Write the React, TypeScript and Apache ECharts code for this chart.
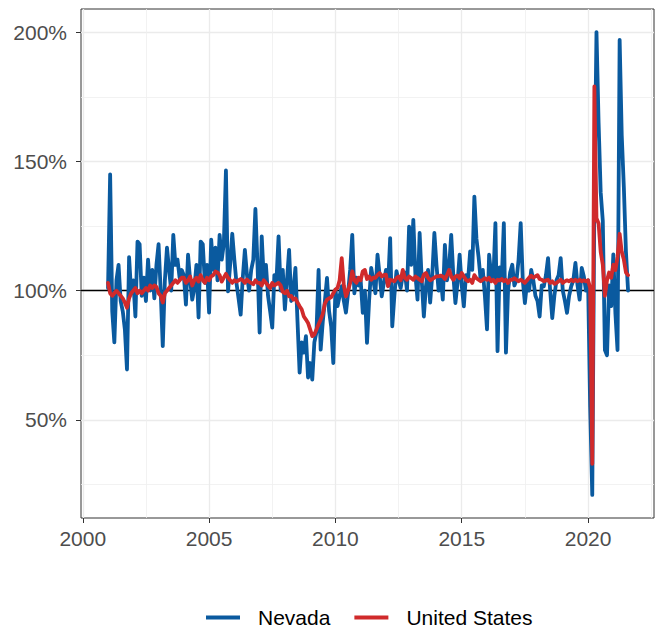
import React, { useEffect, useRef } from "react";
import * as echarts from "echarts";

// Monthly series, January 2001 to August 2021
const START_YEAR = 2001;

const nevada = [
  101, 145, 92, 80, 104, 110, 96, 92, 85, 69.5, 113, 99,
  104, 90, 119, 118, 98, 105, 96, 112, 100, 108, 97, 110,
  118, 100, 78.5, 104, 116.6, 108, 100, 121.6, 110, 112, 105, 108,
  106, 94.6, 113.9, 104, 96.5, 101, 110, 89.6, 119, 118, 103, 110,
  91.5, 119.7, 108, 116.6, 104, 121.6, 112, 118, 146.5, 99.7, 110, 122,
  112, 103, 97, 90.7, 105, 115.8, 106, 100, 108, 112, 131.6, 110,
  83.8, 121, 104, 110, 98, 92, 85.7, 106, 104, 121, 100, 108,
  92.7, 104, 115.8, 96, 100, 108.8, 88, 68.3, 80, 76, 82.4, 66.4,
  72, 65.6, 80, 84, 108, 77.2, 88, 96, 104.9, 92, 86, 72,
  100.4, 94, 98, 101.7, 96, 91.5, 99, 108, 121.6, 99, 105, 102,
  104, 91.4, 100, 79.8, 96, 108.8, 104, 99, 113.9, 106, 97.8, 103,
  108, 102, 120.3, 86.2, 98, 107.5, 104, 101, 106, 107, 100, 124.8,
  110, 127.4, 106, 96.5, 122.3, 104, 90, 101.7, 108, 95.4, 106, 122.3,
  110, 100, 105.5, 96.5, 117.7, 104, 109, 121.6, 106, 95.2, 103, 113.9,
  102, 93.9, 106, 104, 115.2, 108, 136.4, 120, 113, 104, 108, 98,
  85, 113.9, 106, 104, 126.1, 76.6, 109, 104, 126.1, 76, 100, 107,
  110, 102, 104, 112, 126.1, 104, 95.2, 103, 100, 108, 104, 98,
  96, 90, 102, 101.7, 106, 112.6, 100, 89.4, 98, 104, 106, 112.6,
  100, 96, 91.4, 98, 101.7, 104, 110.7, 102, 96.5, 108.8, 105.5, 100,
  104, 55, 21, 135, 200, 165, 138, 127, 77, 75, 102, 94,
  114, 91, 77, 197, 160, 140, 115, 100,
];

const unitedStates = [
  103, 99, 98, 99, 100, 99, 98, 97, 95.4, 93.4, 97, 99,
  100, 101, 99, 100, 99, 100, 101, 100, 102, 101, 102, 101.5,
  99, 98, 95.4, 99, 100, 101, 102, 103, 104, 103, 104, 105,
  105, 103, 104, 105.5, 102, 104, 105, 103.5, 106, 104, 103, 105,
  104, 105.5, 106, 107.4, 107, 106, 103.5, 105, 106.5, 105, 104, 103,
  104, 103.5, 104, 104.5, 104, 103, 104.3, 103.5, 103, 102.5, 104, 103,
  103, 102, 104, 103, 102, 101, 103, 102, 102.5, 103, 102, 99.5,
  99, 100, 97.8, 98, 96.5, 97, 95.4, 94, 92.7, 90, 88.8, 87.5,
  85, 82.4, 83, 85, 87, 88.8, 91, 95, 96.5, 97, 97.5, 99,
  100.4, 101, 104, 112.6, 102, 97.8, 100, 103, 107.5, 104, 103, 105,
  104, 107.5, 108, 104.5, 105.5, 104.2, 105, 104.9, 106, 106.8, 105.5, 106,
  106.2, 101.7, 104.2, 104, 103.6, 104.9, 105.5, 104, 108, 104.9, 104.2, 105.5,
  104.9, 104.2, 105.5, 104.9, 104.2, 103.6, 106.2, 106.8, 105, 104, 104.5, 105,
  105.5, 105.5, 105.8, 105.5, 104.5, 106, 108, 105.5, 104.2, 105.5, 105.8, 104.8,
  106.8, 105.5, 104.2, 103.6, 104.2, 103, 106, 104.8, 104.2, 103.6, 104.2, 104.8,
  104.2, 105, 103.6, 104.2, 103, 104.2, 104, 104.5, 103.6, 104.2, 103, 104.2,
  104.2, 104.8, 104.2, 103.6, 104.2, 103.6, 103, 104, 105, 105.8, 105, 105.5,
  106, 104.5, 104.2, 103.6, 104, 104.2, 103, 103.6, 102.6, 103, 103.6, 104.2,
  103, 103.6, 104, 103.6, 104.2, 103.6, 104.2, 103.6, 104.2, 103.6, 104, 103.6,
  104, 101, 33, 179, 128, 126, 115, 110, 98, 104, 107, 105,
  110, 108, 113, 122, 115, 112, 107, 106,
];

const xMajorTicks = [2000, 2005, 2010, 2015, 2020];
const xMinorTicks = [2002.5, 2007.5, 2012.5, 2017.5, 2022.5];
const yMajorTicks = [50, 100, 150, 200];
const yMinorTicks = [25, 75, 125, 175];
const referenceLevel = 100;

const X_MIN = 1999.93;
const X_MAX = 2022.61;
const Y_MIN = 12.05;
const Y_MAX = 208.95;

const monthTimes = nevada.map((_, i) => START_YEAR + i / 12);

const FONT = "'Liberation Sans', Arial, sans-serif";
const BLUE = "#0A5A9F";
const RED = "#D02A2B";
// legend key: a 34x4 bar followed by blank space so the label sits 18px after it
const LEGEND_KEY = "path://M0,0H34V4H0Z M47,0V4";

export default function App() {
  const ref = useRef<HTMLDivElement>(null);

  useEffect(() => {
    if (!ref.current) return;
    const chart = echarts.init(ref.current, undefined, { renderer: "svg" });

    const majorSplit = { show: true, lineStyle: { color: "#EBEBEB", width: 1.3 } };
    const minorSplit = { show: true, lineStyle: { color: "#EFEFEF", width: 0.8 } };

    const option: any = {
      animation: false,
      backgroundColor: "#FFFFFF",
      grid: {
        left: 81,
        top: 9,
        width: 573,
        height: 509,
        show: true,
        borderColor: "#333333",
        borderWidth: 1,
        backgroundColor: "transparent",
      },
      legend: {
        data: ["Nevada", "United States"],
        left: 206,
        top: 607,
        padding: 0,
        icon: LEGEND_KEY,
        itemWidth: 47,
        itemHeight: 4,
        itemGap: 24,
        itemStyle: { borderWidth: 0, borderColor: "transparent" },
        textStyle: {
          fontSize: 21,
          color: "#000000",
          fontFamily: FONT,
        },
      },
      xAxis: [
        {
          type: "value",
          min: X_MIN,
          max: X_MAX,
          position: "bottom",
          axisLine: { show: false },
          axisTick: {
            show: true,
            length: 5,
            customValues: xMajorTicks,
            lineStyle: { color: "#333333", width: 1 },
          },
          axisLabel: {
            customValues: xMajorTicks,
            fontSize: 21,
            color: "#4D4D4D",
            fontFamily: FONT,
            margin: 10,
            formatter: (v: number) => String(Math.round(v)),
          },
          splitLine: majorSplit,
        },
        {
          type: "value",
          min: X_MIN,
          max: X_MAX,
          position: "top",
          axisLine: { show: false },
          axisTick: { show: false, customValues: xMinorTicks },
          axisLabel: { show: false, customValues: xMinorTicks },
          splitLine: minorSplit,
        },
      ],
      yAxis: [
        {
          type: "value",
          min: Y_MIN,
          max: Y_MAX,
          position: "left",
          axisLine: { show: false },
          axisTick: {
            show: true,
            length: 5,
            customValues: yMajorTicks,
            lineStyle: { color: "#333333", width: 1 },
          },
          axisLabel: {
            customValues: yMajorTicks,
            fontSize: 21,
            color: "#4D4D4D",
            fontFamily: FONT,
            margin: 14,
            formatter: (v: number) => `${Math.round(v)}%`,
          },
          splitLine: majorSplit,
        },
        {
          type: "value",
          min: Y_MIN,
          max: Y_MAX,
          position: "right",
          axisLine: { show: false },
          axisTick: { show: false, customValues: yMinorTicks },
          axisLabel: { show: false, customValues: yMinorTicks },
          splitLine: minorSplit,
        },
      ],
      series: [
        {
          name: "ref",
          type: "line",
          data: [],
          z: 1,
          xAxisIndex: 0,
          yAxisIndex: 0,
          markLine: {
            silent: true,
            z: 1,
            symbol: "none",
            label: { show: false },
            lineStyle: { color: "#000000", width: 1.4, type: "solid" },
            data: [{ yAxis: referenceLevel }],
          },
        },
        {
          name: "Nevada",
          type: "line",
          xAxisIndex: 0,
          yAxisIndex: 0,
          showSymbol: false,
          symbol: "none",
          z: 3,
          color: BLUE,
          lineStyle: { color: BLUE, width: 3.8, join: "round", cap: "round" },
          data: monthTimes.map((t, i) => [t, nevada[i]]),
        },
        {
          name: "United States",
          type: "line",
          xAxisIndex: 0,
          yAxisIndex: 0,
          showSymbol: false,
          symbol: "none",
          z: 4,
          color: RED,
          lineStyle: { color: RED, width: 3.8, join: "round", cap: "round" },
          data: monthTimes.map((t, i) => [t, unitedStates[i]]),
        },
      ],
    };

    chart.setOption(option);
    return () => chart.dispose();
  }, []);

  return (
    <div
      ref={ref}
      style={{ position: "fixed", left: 0, top: 0, width: 655, height: 628, background: "#fff" }}
    />
  );
}
